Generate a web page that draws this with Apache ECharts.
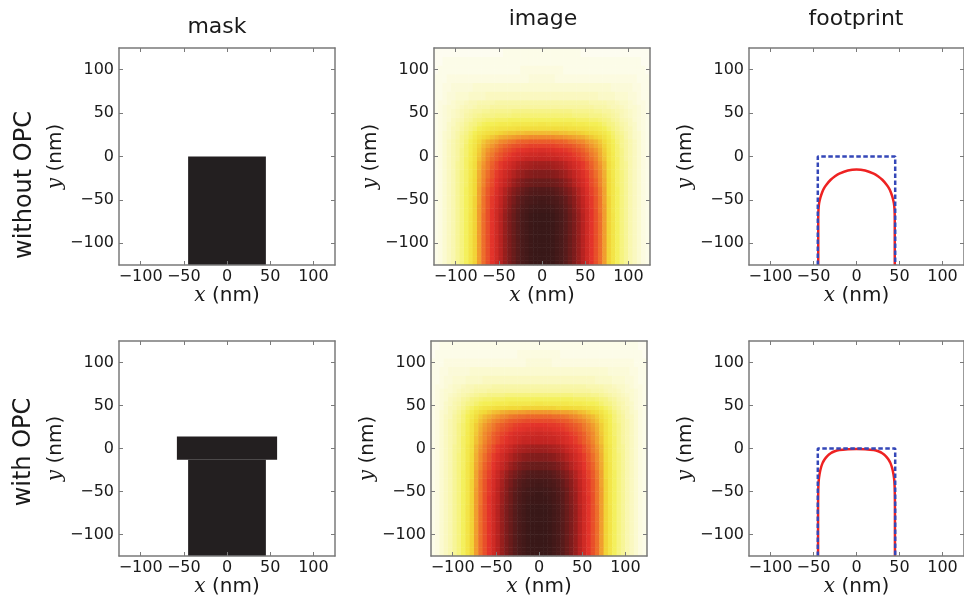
<!DOCTYPE html>
<html><head><meta charset="utf-8">
<script src="https://cdn.jsdelivr.net/npm/echarts@6/dist/echarts.min.js"></script>
<style>html,body{margin:0;padding:0;background:#fff}#c{width:964px;height:600px}</style>
</head><body><div id="c"></div>
<script>
const tickValues = [-100, -50, 0, 50, 100];
const axisMin = -125, axisMax = 125;
const columnTitles = ['mask', 'image', 'footprint'];
const rowTitles = ['without OPC', 'with OPC'];
// heatmap cell centres (nm)
const xCells = [-122.5,-117.5,-112.5,-107.5,-102.5,-97.5,-92.5,-87.5,-82.5,-77.5,-72.5,-67.5,-62.5,-57.5,-52.5,-47.5,-42.5,-37.5,-32.5,-27.5,-22.5,-17.5,-12.5,-7.5,-2.5,
  2.5,7.5,12.5,17.5,22.5,27.5,32.5,37.5,42.5,47.5,52.5,57.5,62.5,67.5,72.5,77.5,82.5,87.5,92.5,97.5,102.5,107.5,112.5,117.5,122.5];
const yCells = [-122.5,-117.5,-112.5,-107.5,-102.5,-97.5,-92.5,-87.5,-82.5,-77.5,-72.5,-67.5,-62.5,-57.5,-52.5,-47.5,-42.5,-37.5,-32.5,-27.5,-22.5,-17.5,-12.5,-7.5,-2.5,
  2.5,7.5,12.5,17.5,22.5,27.5,32.5,37.5,42.5,47.5,52.5,57.5,62.5,67.5,72.5,77.5,82.5,87.5,92.5,97.5,102.5,107.5,112.5,117.5,122.5];

// mask rectangles: [x0, x1, y0, y1] in nm
const maskTop = [[-45, 45, -125, 0]];
const maskBottom = [[-45, 45, -125, -13], [-58, 58, -13, 14]];

// aerial-image intensity profiles (0..100), x = -122.5..122.5
const rowDeep = [2,3,5,7,9,12,15,19,25,31,40,48,54,60,66,72,78,83,87,91,95,97,99,100,100,100,100,99,97,95,91,87,83,78,72,66,60,54,48,40,31,25,19,15,12,9,7,5,3,2];
const rowA = [2,3,5,7,9,12,15,19,24,31,40,47,54,60,66,71,77,82,86,90,94,96,98,99,99,99,99,98,96,94,90,86,82,77,71,66,60,54,47,40,31,24,19,15,12,9,7,5,3,2];
const rowB = [2,3,5,7,9,12,15,19,24,31,40,47,54,59,65,71,77,81,86,90,93,96,97,98,99,99,98,97,96,93,90,86,81,77,71,65,59,54,47,40,31,24,19,15,12,9,7,5,3,2];
const rowC = [2,3,5,7,9,12,15,19,24,31,40,47,53,59,65,71,76,81,86,89,93,95,97,98,98,98,98,97,95,93,89,86,81,76,71,65,59,53,47,40,31,24,19,15,12,9,7,5,3,2];
const rowD = [2,3,5,7,9,12,15,19,24,31,39,47,53,59,64,70,75,80,84,88,91,94,95,96,97,97,96,95,94,91,88,84,80,75,70,64,59,53,47,39,31,24,19,15,12,9,7,5,3,2];
const rowE = [2,3,5,7,9,12,15,19,24,31,39,47,53,59,64,70,75,80,84,88,91,93,95,96,96,96,96,95,93,91,88,84,80,75,70,64,59,53,47,39,31,24,19,15,12,9,7,5,3,2];
const rowF = [2,3,5,7,9,12,15,19,24,30,39,46,52,57,63,68,73,78,82,85,88,90,92,93,93,93,93,92,90,88,85,82,78,73,68,63,57,52,46,39,30,24,19,15,12,9,7,5,3,2];
const rowG = [2,3,5,7,9,12,15,19,24,30,39,46,52,57,62,68,73,77,81,84,87,89,91,92,92,92,92,91,89,87,84,81,77,73,68,62,57,52,46,39,30,24,19,15,12,9,7,5,3,2];
const rowH = [2,3,5,7,9,12,15,18,24,30,38,44,50,55,60,65,69,73,77,80,83,85,86,87,87,87,87,86,85,83,80,77,73,69,65,60,55,50,44,38,30,24,18,15,12,9,7,5,3,2];
const rowI = [2,3,5,7,9,12,15,18,23,29,37,43,48,53,58,62,66,70,73,76,78,80,81,82,82,82,82,81,80,78,76,73,70,66,62,58,53,48,43,37,29,23,18,15,12,9,7,5,3,2];
const rowJ = [2,3,5,7,9,12,14,18,23,28,36,42,46,51,55,59,63,66,69,72,74,75,76,77,77,77,77,76,75,74,72,69,66,63,59,55,51,46,42,36,28,23,18,14,12,9,7,5,3,2];
const rowK = [2,3,5,7,9,12,14,18,23,28,36,41,46,50,55,59,62,65,68,71,73,74,75,76,76,76,76,75,74,73,71,68,65,62,59,55,50,46,41,36,28,23,18,14,12,9,7,5,3,2];
const rowL = [2,3,5,7,9,11,14,18,22,27,34,39,44,48,51,55,58,61,63,65,67,69,69,70,70,70,70,69,69,67,65,63,61,58,55,51,48,44,39,34,27,22,18,14,11,9,7,5,3,2];
const rowM = [2,3,5,7,9,11,14,18,22,27,34,39,43,47,51,54,58,60,63,65,66,68,68,69,69,69,69,68,68,66,65,63,60,58,54,51,47,43,39,34,27,22,18,14,11,9,7,5,3,2];
const rowAA = [2,3,5,7,9,11,14,17,22,27,33,38,43,46,50,53,56,58,61,63,64,65,66,66,67,67,66,66,65,64,63,61,58,56,53,50,46,43,38,33,27,22,17,14,11,9,7,5,3,2];
const rowBB = [2,3,5,7,9,11,14,17,21,26,32,37,41,44,47,50,53,55,57,59,60,61,62,62,63,63,62,62,61,60,59,57,55,53,50,47,44,41,37,32,26,21,17,14,11,9,7,5,3,2];
const rowO = [2,3,5,7,9,11,14,17,21,26,32,36,40,43,46,49,51,53,55,57,58,59,59,60,60,60,60,59,59,58,57,55,53,51,49,46,43,40,36,32,26,21,17,14,11,9,7,5,3,2];
const rowP = [2,3,5,7,9,11,13,17,21,25,31,35,38,41,44,47,49,51,53,54,55,56,57,57,57,57,57,57,56,55,54,53,51,49,47,44,41,38,35,31,25,21,17,13,11,9,7,5,3,2];
const rowKK = [2,3,5,7,9,11,13,16,20,25,30,34,37,40,43,45,47,49,51,52,53,54,55,55,55,55,55,55,54,53,52,51,49,47,45,43,40,37,34,30,25,20,16,13,11,9,7,5,3,2];
const rowCC = [2,3,5,7,9,11,13,16,20,24,29,33,36,38,40,43,44,46,47,49,50,50,51,51,51,51,51,51,50,50,49,47,46,44,43,40,38,36,33,29,24,20,16,13,11,9,7,5,3,2];
const rowLL = [2,3,5,7,8,11,13,16,20,23,28,32,35,37,39,41,43,44,46,47,48,48,49,49,49,49,49,49,48,48,47,46,44,43,41,39,37,35,32,28,23,20,16,13,11,8,7,5,3,2];
const rowDD = [2,3,5,6,8,10,13,15,18,22,26,29,31,33,35,37,38,39,40,41,42,42,43,43,43,43,43,43,42,42,41,40,39,38,37,35,33,31,29,26,22,18,15,13,10,8,6,5,3,2];
const rowMM = [2,3,5,6,8,10,12,15,18,21,25,28,30,32,34,35,37,38,39,39,40,40,41,41,41,41,41,41,40,40,39,39,38,37,35,34,32,30,28,25,21,18,15,12,10,8,6,5,3,2];
const rowEE = [2,3,5,6,8,10,12,14,17,20,23,25,27,28,30,31,32,33,33,34,34,35,35,35,35,35,35,35,35,34,34,33,33,32,31,30,28,27,25,23,20,17,14,12,10,8,6,5,3,2];
const rowS = [2,3,4,6,8,9,11,13,16,18,21,23,25,26,27,28,28,29,30,30,30,31,31,31,31,31,31,31,31,30,30,30,29,28,28,27,26,25,23,21,18,16,13,11,9,8,6,4,3,2];
const rowFF = [2,3,4,6,8,9,11,13,15,17,20,22,23,24,25,26,26,27,27,28,28,28,28,28,28,28,28,28,28,28,28,27,27,26,26,25,24,23,22,20,17,15,13,11,9,8,6,4,3,2];
const rowGG = [2,3,4,6,7,9,10,12,14,15,17,19,20,20,21,22,22,22,23,23,23,23,23,23,24,24,23,23,23,23,23,23,22,22,22,21,20,20,19,17,15,14,12,10,9,7,6,4,3,2];
const rowHH = [2,3,4,5,7,8,9,11,12,14,15,16,17,17,18,18,18,19,19,19,19,19,19,19,19,19,19,19,19,19,19,19,19,18,18,18,17,17,16,15,14,12,11,9,8,7,5,4,3,2];
const rowV = [2,3,4,5,6,7,8,10,11,12,13,14,14,14,15,15,15,15,16,16,16,16,16,16,16,16,16,16,16,16,16,16,15,15,15,15,14,14,14,13,12,11,10,8,7,6,5,4,3,2];
const rowW = [2,3,4,5,6,7,8,9,10,11,12,13,13,14,14,14,14,15,15,15,15,15,15,15,15,15,15,15,15,15,15,15,15,14,14,14,14,13,13,12,11,10,9,8,7,6,5,4,3,2];
const rowII = [2,3,4,5,6,7,8,9,10,11,11,12,12,13,13,13,13,13,14,14,14,14,14,14,14,14,14,14,14,14,14,14,13,13,13,13,13,12,12,11,11,10,9,8,7,6,5,4,3,2];
const rowJJ = [2,3,4,5,5,6,7,8,8,9,10,10,10,11,11,11,11,11,11,11,11,11,11,11,11,11,11,11,11,11,11,11,11,11,11,11,11,10,10,10,9,8,8,7,6,5,5,4,3,2];
const rowX = [2,3,3,4,5,6,6,7,8,8,9,9,9,9,10,10,10,10,10,10,10,10,10,10,10,10,10,10,10,10,10,10,10,10,10,10,9,9,9,9,8,8,7,6,6,5,4,3,3,2];
const rowY = [2,2,3,4,4,5,5,5,6,6,6,6,7,7,7,7,7,7,7,7,7,7,7,7,7,7,7,7,7,7,7,7,7,7,7,7,7,7,6,6,6,6,5,5,5,4,4,3,2,2];
const rowZ = [2,2,3,3,4,4,4,4,4,5,5,5,5,5,5,5,5,5,5,5,5,5,5,5,5,5,5,5,5,5,5,5,5,5,5,5,5,5,5,5,5,4,4,4,4,4,3,3,2,2];
const rowPale = [2,2,2,3,3,3,3,3,3,3,3,3,3,3,3,3,3,3,3,3,3,3,4,4,4,4,4,4,3,3,3,3,3,3,3,3,3,3,3,3,3,3,3,3,3,3,3,2,2,2];
const rowPaler = [1,2,2,2,2,2,2,2,2,2,2,2,2,2,2,2,2,2,2,2,3,3,3,3,3,3,3,3,3,3,2,2,2,2,2,2,2,2,2,2,2,2,2,2,2,2,2,2,2,1];
const rowFaint = [1,1,2,2,2,2,2,2,2,2,2,2,2,2,2,2,2,2,2,2,2,2,2,2,2,2,2,2,2,2,2,2,2,2,2,2,2,2,2,2,2,2,2,2,2,2,2,2,1,1];
const rowFaintest = [1,1,1,1,1,1,1,1,1,1,1,1,1,1,1,1,2,2,2,2,2,2,2,2,2,2,2,2,2,2,2,2,2,2,1,1,1,1,1,1,1,1,1,1,1,1,1,1,1,1];

// one row per y cell, y = -122.5..122.5
const imageTop = [rowDeep,rowDeep,rowDeep,rowDeep,rowDeep,rowDeep,rowDeep,rowDeep,rowDeep,rowDeep,rowDeep,rowDeep,
  rowA,rowC,rowD,rowE,rowF,rowG,rowH,rowH,rowI,rowI,rowJ,rowK,rowL,rowAA,rowBB,rowP,rowCC,rowDD,rowEE,rowFF,rowGG,rowHH,rowV,rowII,rowJJ,
  rowX,rowY,rowY,rowZ,rowZ,rowPale,rowPale,rowPaler,rowPaler,rowFaint,rowFaint,rowFaintest,rowFaintest];
const imageBottom = [rowDeep,rowDeep,rowDeep,rowDeep,rowDeep,rowDeep,rowDeep,rowDeep,rowDeep,rowDeep,rowDeep,rowDeep,
  rowA,rowA,rowB,rowC,rowD,rowE,rowF,rowG,rowH,rowH,rowI,rowI,rowJ,rowK,rowL,rowM,rowAA,rowBB,rowO,rowKK,rowLL,rowMM,rowS,rowGG,rowHH,rowW,rowJJ,
  rowX,rowY,rowY,rowZ,rowZ,rowPale,rowPale,rowPaler,rowPaler,rowFaint,rowFaint];

// target (dashed) and printed footprint (solid) outlines, [x, y] in nm
const targetTop = [[-45,-125],[-45,0],[45,0],[45,-125]];
const targetBottom = [[-45,-125],[-45,0],[45,0],[45,-125]];
const footprintTop = [[-44.5,-125],[-44.5,-72],[-44.2,-61],[-43.5,-54],[-42,-47.5],[-40,-41.5],[-38,-37],[-35,-32.5],[-30,-26.8],[-25,-22.8],[-20,-19.8],[-10,-16.2],[0,-15],
  [10,-16.2],[20,-19.8],[25,-22.8],[30,-26.8],[35,-32.5],[38,-37],[40,-41.5],[42,-47.5],[43.5,-54],[44.2,-61],[44.5,-72],[44.5,-125]];
const footprintBottom = [[-44.7,-125],[-44.7,-70],[-44.5,-50],[-44,-38],[-43,-30],[-41.5,-23],[-39.5,-17],[-37,-12.5],[-34,-8.8],[-30,-5.5],[-26,-3.5],[-20,-1.8],[-10,-0.8],[0,-0.5],
  [10,-0.8],[20,-1.8],[26,-3.5],[30,-5.5],[34,-8.8],[37,-12.5],[39.5,-17],[41.5,-23],[43,-30],[44,-38],[44.5,-50],[44.7,-70],[44.7,-125]];

const heatColors = ['#fdfdf8','#f8f6a8','#f4ef55','#f2d938','#f19d2e','#ec622a','#e3332a','#c22522','#8c1d1c','#5a1b1b','#391818'];
const maskColor = '#231f20';
const frame = '#7a7a7a', ink = '#1a1a1a';
const fmt = v => v < 0 ? '\u2212' + (-v) : String(v);

const boxes = [
  {left:119, top:48, height:217}, {left:434, top:48, height:217}, {left:749, top:48, height:217},
  {left:119, top:341, height:215}, {left:431, top:341, height:215}, {left:749, top:341, height:215}
];
const grid = [], xAxis = [], yAxis = [], series = [];
const nameStyle = {fontSize:20, fontFamily:'DejaVu Sans', color:ink,
  rich:{i:{fontFamily:'DejaVu Serif', fontStyle:'italic', fontSize:20, color:ink}}};
boxes.forEach((b, g) => {
  grid.push({left:b.left, top:b.top, width:216, height:b.height});
  const base = {gridIndex:g, type:'value', min:axisMin, max:axisMax, z:10,
    splitLine:{show:false},
    axisLine:{show:true, onZero:false, lineStyle:{color:frame, width:1.5}},
    axisTick:{show:true, inside:true, length:4, customValues:tickValues, lineStyle:{color:frame, width:1}}};
  const lab = {show:true, customValues:tickValues, formatter:fmt, fontSize:16, fontFamily:'DejaVu Sans', color:ink};
  xAxis.push(Object.assign({}, base, {position:'bottom', axisLabel:Object.assign({}, lab, {margin:4}),
    name:'{i|x} (nm)', nameLocation:'middle', nameGap:21, nameTextStyle:nameStyle}));
  xAxis.push(Object.assign({}, base, {position:'top', axisLabel:{show:false}}));
  yAxis.push(Object.assign({}, base, {position:'left', axisLabel:Object.assign({}, lab, {margin:5}),
    name:'{i|y} (nm)', nameLocation:'middle', nameGap:52, nameRotate:90, nameTextStyle:nameStyle}));
  yAxis.push(Object.assign({}, base, {position:'right', axisLabel:{show:false}}));
});
// hidden category axes carrying the two image heatmaps
[1, 4].forEach(g => {
  xAxis.push({gridIndex:g, type:'category', data:xCells.map(String), show:false, boundaryGap:true});
  yAxis.push({gridIndex:g, type:'category', data:yCells.map(String), show:false, boundaryGap:true});
});

function renderRect(params, api) {
  const a = api.coord([api.value(0), api.value(3)]);
  const c = api.coord([api.value(1), api.value(2)]);
  return {type:'rect', shape:{x:a[0], y:a[1], width:c[0]-a[0], height:c[1]-a[1]}, style:{fill:maskColor}};
}
function heatData(rows) {
  const out = [];
  rows.forEach((row, j) => row.forEach((v, i) => out.push([i, j, v])));
  return out;
}
function maskSeries(data, g) {
  return {type:'custom', coordinateSystem:'cartesian2d', xAxisIndex:2*g, yAxisIndex:2*g,
    encode:{x:[0,1], y:[2,3]}, renderItem:renderRect, data:data, silent:true};
}
function footSeries(curve, target, g) {
  return [
    {type:'line', xAxisIndex:2*g, yAxisIndex:2*g, data:curve, showSymbol:false, smooth:0.25,
      lineStyle:{color:'#ee2222', width:2.5}, silent:true},
    {type:'line', xAxisIndex:2*g, yAxisIndex:2*g, data:target, showSymbol:false,
      lineStyle:{color:'#3447b8', width:2.5, type:[4.5,2.5]}, silent:true}
  ];
}
series.push(maskSeries(maskTop, 0));
series.push({type:'heatmap', xAxisIndex:12, yAxisIndex:12, data:heatData(imageTop), silent:true});
series.push(...footSeries(footprintTop, targetTop, 2));
series.push(maskSeries(maskBottom, 3));
series.push({type:'heatmap', xAxisIndex:13, yAxisIndex:13, data:heatData(imageBottom), silent:true});
series.push(...footSeries(footprintBottom, targetBottom, 5));

const titleFont = {fontSize:22, fontFamily:'DejaVu Sans', fill:ink, align:'center', verticalAlign:'middle'};
const graphic = [
  {type:'text', x:217, y:27, style:Object.assign({text:columnTitles[0]}, titleFont)},
  {type:'text', x:543, y:19, style:Object.assign({text:columnTitles[1]}, titleFont)},
  {type:'text', x:856, y:19, style:Object.assign({text:columnTitles[2]}, titleFont)},
  {type:'text', x:25, y:185, rotation:Math.PI/2, style:Object.assign({text:rowTitles[0]}, titleFont, {fontSize:24})},
  {type:'text', x:24, y:452, rotation:Math.PI/2, style:Object.assign({text:rowTitles[1]}, titleFont, {fontSize:24})}
];

const chart = echarts.init(document.getElementById('c'), null, {renderer:'canvas'});
chart.setOption({
  backgroundColor:'#ffffff',
  animation:false,
  grid, xAxis, yAxis, series, graphic,
  visualMap:{type:'continuous', show:false, min:0, max:100, seriesIndex:[1,5], inRange:{color:heatColors}}
});
</script>
</body></html>
